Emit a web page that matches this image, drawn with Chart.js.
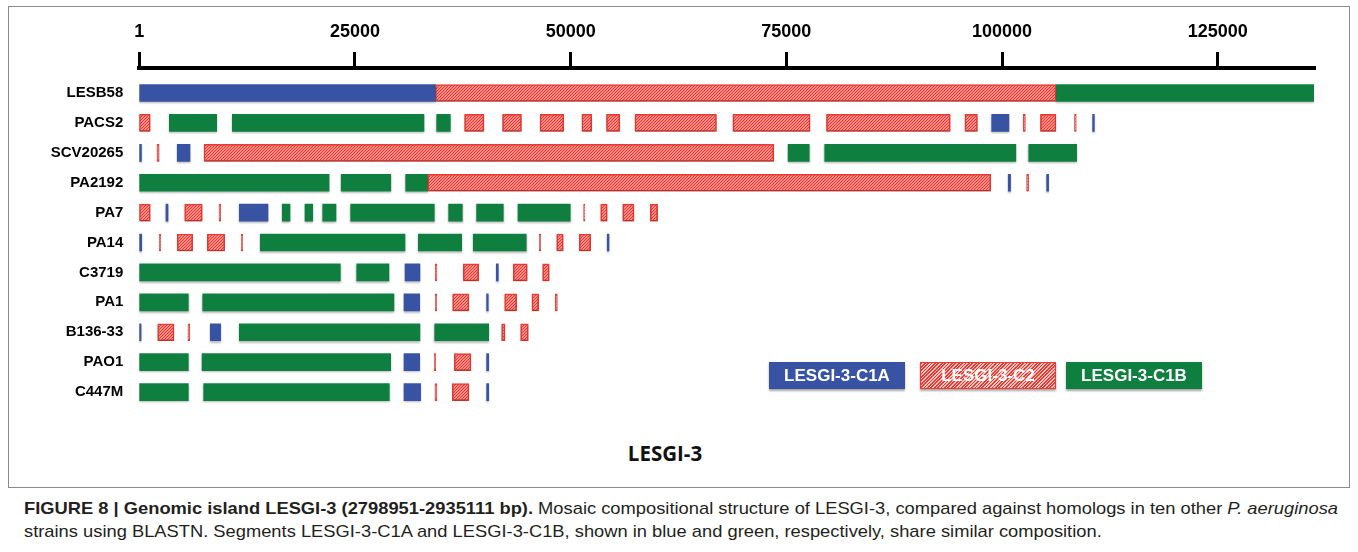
<!DOCTYPE html>
<html>
<head>
<meta charset="utf-8">
<title>LESGI-3</title>
<script src="https://cdn.jsdelivr.net/npm/chart.js@4.4.1/dist/chart.umd.min.js"></script>
<style>
  html, body { margin: 0; padding: 0; background: #fff; }
  #fig { position: relative; width: 1358px; height: 552px; overflow: hidden; font-family: "Liberation Sans", Arial, sans-serif; }
  #frame { position: absolute; left: 8px; top: 6px; width: 1342px; height: 482px; border: 1px solid #8c8c8c; box-sizing: border-box; }
  #plot { position: absolute; left: 0; top: 0; }
  .key { position: absolute; top: 362px; height: 27px; color: #fff; font: bold 17px "Liberation Sans", Arial, sans-serif;
         display: flex; align-items: center; justify-content: center; box-sizing: border-box; box-shadow: 0 1.5px 2px rgba(0,0,0,0.35); }
  #k1 { left: 769px; width: 136px; background: #3953a4; }
  #k2 { left: 920px; width: 136px; border: 1.5px solid #ee3a33;
        background: repeating-linear-gradient(135deg, #ee3a33 0 1.2px, #f9c7c1 1.2px 2.4px); }
  #k3 { left: 1066px; width: 136px; background: #0f7f40; }
  #title { position: absolute; left: 565px; width: 200px; top: 439px; line-height: 26px; text-align: center;
           font: bold 20.5px "Open Sans", "Liberation Sans", sans-serif; color: #111; }
  #cap { position: absolute; left: 24px; top: 497px; font-size: 17px; line-height: 23px; color: #231f20;
         white-space: nowrap; transform-origin: 0 0; }
</style>
</head>
<body>
<div id="fig">
  <div id="frame"></div>
  <canvas id="plot" width="1358" height="435"></canvas>
  <div class="key" id="k1">LESGI-3-C1A</div>
  <div class="key" id="k2">LESGI-3-C2</div>
  <div class="key" id="k3">LESGI-3-C1B</div>
  <div id="title">LESGI-3</div>
  <div id="cap"><span id="capLine1"><b>FIGURE 8 | Genomic island LESGI-3 (2798951-2935111 bp).</b> Mosaic compositional structure of LESGI-3, compared against homologs in ten other <i>P. aeruginosa</i></span><br>strains using BLASTN. Segments LESGI-3-C1A and LESGI-3-C1B, shown in blue and green, respectively, share similar composition.</div>
</div>
<script>
// Strains, top to bottom
const strains = ['LESB58', 'PACS2', 'SCV20265', 'PA2192', 'PA7', 'PA14', 'C3719', 'PA1', 'B136-33', 'PAO1', 'C447M'];

// Ruler labels (bp) and island length
const axisTicks = [1, 25000, 50000, 75000, 100000, 125000];
const islandLength = 136160;

// Segments: [strain, start bp, end bp]
const c1a = [
  ['LESB58', 1, 34300],
  ['PACS2', 98800, 100800], ['PACS2', 110500, 110700],
  ['SCV20265', 1, 250], ['SCV20265', 4400, 5880],
  ['PA2192', 100720, 100990], ['PA2192', 105170, 105400],
  ['PA7', 3090, 3330], ['PA7', 11590, 14920],
  ['PA14', 1, 280], ['PA14', 54240, 54440],
  ['C3719', 30800, 32530], ['C3719', 41380, 41610],
  ['PA1', 30680, 32500], ['PA1', 40260, 40450],
  ['B136-33', 1, 200], ['B136-33', 8230, 9430],
  ['PAO1', 30680, 32500], ['PAO1', 40260, 40500],
  ['C447M', 30680, 32610], ['C447M', 40260, 40500]
];

const c2 = [
  ['LESB58', 34300, 106250],
  ['PACS2', 1, 1270], ['PACS2', 37700, 39950], ['PACS2', 42100, 44300], ['PACS2', 46450, 49200],
  ['PACS2', 51300, 52450], ['PACS2', 54150, 55700], ['PACS2', 57450, 66900], ['PACS2', 68800, 77750],
  ['PACS2', 79650, 94000], ['PACS2', 95700, 97150], ['PACS2', 102450, 102700], ['PACS2', 104450, 106250],
  ['PACS2', 108400, 108600],
  ['SCV20265', 2050, 2300], ['SCV20265', 7500, 73550],
  ['PA2192', 33430, 98700], ['PA2192', 102850, 103080],
  ['PA7', 1, 1270], ['PA7', 5260, 7300], ['PA7', 9240, 9430], ['PA7', 51500, 51650],
  ['PA7', 53480, 54240], ['PA7', 56030, 57340], ['PA7', 59230, 60080],
  ['PA14', 2320, 2480], ['PA14', 4400, 6190], ['PA14', 7880, 9900], ['PA14', 11820, 11980],
  ['PA14', 46360, 46520], ['PA14', 48380, 49140], ['PA14', 51000, 52320],
  ['C3719', 34310, 34500], ['C3719', 37550, 39340], ['C3719', 43350, 44970], ['C3719', 46750, 47520],
  ['PA1', 34310, 34470], ['PA1', 36320, 38210], ['PA1', 42350, 43740], ['PA1', 45510, 46290], ['PA1', 48210, 48450],
  ['B136-33', 2130, 4020], ['B136-33', 5640, 5840], ['B136-33', 42000, 42390], ['B136-33', 44200, 45090],
  ['PAO1', 34190, 34350], ['PAO1', 36510, 38440],
  ['C447M', 34270, 34500], ['C447M', 36280, 38210]
];

const c1b = [
  ['LESB58', 106250, 136160],
  ['PACS2', 3480, 8970], ['PACS2', 10780, 33000], ['PACS2', 34470, 36050],
  ['SCV20265', 75200, 77650], ['SCV20265', 79450, 101600], ['SCV20265', 103100, 108650],
  ['PA2192', 1, 22000], ['PA2192', 23400, 29150], ['PA2192', 30880, 33430],
  ['PA7', 16570, 17470], ['PA7', 19200, 20100], ['PA7', 21260, 22800], ['PA7', 24500, 34190],
  ['PA7', 35860, 37440], ['PA7', 39100, 42190], ['PA7', 43890, 49950],
  ['PA14', 14020, 30800], ['PA14', 32340, 37370], ['PA14', 38710, 44850],
  ['C3719', 1, 23300], ['C3719', 25200, 28940],
  ['PA1', 1, 5680], ['PA1', 7350, 29520],
  ['B136-33', 11590, 32530], ['B136-33', 34240, 40500],
  ['PAO1', 1, 5680], ['PAO1', 7270, 29140],
  ['C447M', 1, 5680], ['C447M', 7460, 28980]
];

const BLUE = '#3953a4';
const GREEN = '#0f7f40';
const RED = '#ee3a33';

// Fine diagonal hatch used for the C2 segments
function makeHatch() {
  const t = document.createElement('canvas');
  t.width = 3; t.height = 3;
  const g = t.getContext('2d');
  g.fillStyle = '#f9cdc8';
  g.fillRect(0, 0, 3, 3);
  g.strokeStyle = RED;
  g.lineWidth = 1.3;
  g.beginPath();
  g.moveTo(-1, 4); g.lineTo(4, -1);
  g.moveTo(-1, 1); g.lineTo(1, -1);
  g.moveTo(2, 4); g.lineTo(4, 2);
  g.stroke();
  return g.createPattern(t, 'repeat');
}

const toPoints = segs => segs.map(([s, a, b]) => ({ x: [a, b], y: strains.indexOf(s) }));

// Soft drop shadow under the segments
const barShadow = {
  id: 'barShadow',
  beforeDatasetsDraw(chart) {
    const ctx = chart.ctx;
    ctx.save();
    ctx.shadowColor = 'rgba(0,0,0,0.28)';
    ctx.shadowBlur = 2;
    ctx.shadowOffsetY = 1.5;
  },
  afterDatasetsDraw(chart) { chart.ctx.restore(); }
};

const common = { barThickness: 17, grouped: false, borderSkipped: false };

new Chart(document.getElementById('plot'), {
  type: 'bar',
  data: {
    datasets: [
      { label: 'LESGI-3-C1A', data: toPoints(c1a), backgroundColor: BLUE, borderWidth: 0, ...common },
      { label: 'LESGI-3-C2', data: toPoints(c2), backgroundColor: makeHatch(), borderColor: RED, borderWidth: 1.5, ...common },
      { label: 'LESGI-3-C1B', data: toPoints(c1b), backgroundColor: GREEN, borderWidth: 0, ...common }
    ]
  },
  options: {
    indexAxis: 'y',
    responsive: false,
    animation: false,
    layout: { padding: { left: 0, right: 44, top: 0, bottom: 10 } },
    plugins: { legend: { display: false }, tooltip: { enabled: false } },
    scales: {
      x: {
        type: 'linear',
        position: 'top',
        min: 0,
        max: islandLength,
        offset: false,
        afterBuildTicks: s => { s.ticks = axisTicks.map(v => ({ value: v })); },
        afterFit: s => { s.height = 68; },
        ticks: {
          callback: v => String(v),
          color: '#000',
          font: { family: '"Liberation Sans", Arial, sans-serif', weight: 'bold', size: 18 },
          padding: 9,
          maxRotation: 0
        },
        grid: { drawOnChartArea: false, drawTicks: true, tickLength: 16, lineWidth: 3, color: '#000', offset: false },
        border: { display: true, width: 4, color: '#000' }
      },
      y: {
        type: 'linear',
        reverse: true,
        offset: false,
        min: -0.836,
        max: 10.6,
        afterBuildTicks: s => { s.ticks = strains.map((_, i) => ({ value: i })); },
        afterFit: s => { s.width = 139.3; },
        ticks: {
          callback: v => strains[v],
          color: '#000',
          font: { family: '"Liberation Sans", Arial, sans-serif', weight: 'bold', size: 15 },
          padding: 16
        },
        grid: { display: false, drawTicks: false, offset: false },
        border: { display: false }
      }
    }
  },
  plugins: [barShadow]
});

// Caption first line spans the full text width
(function fitCaption() {
  const line = document.getElementById('capLine1');
  const w = line.getBoundingClientRect().width;
  const target = 1314;
  document.getElementById('cap').style.transform = 'scaleX(' + (target / w) + ')';
})();
</script>
</body>
</html>
